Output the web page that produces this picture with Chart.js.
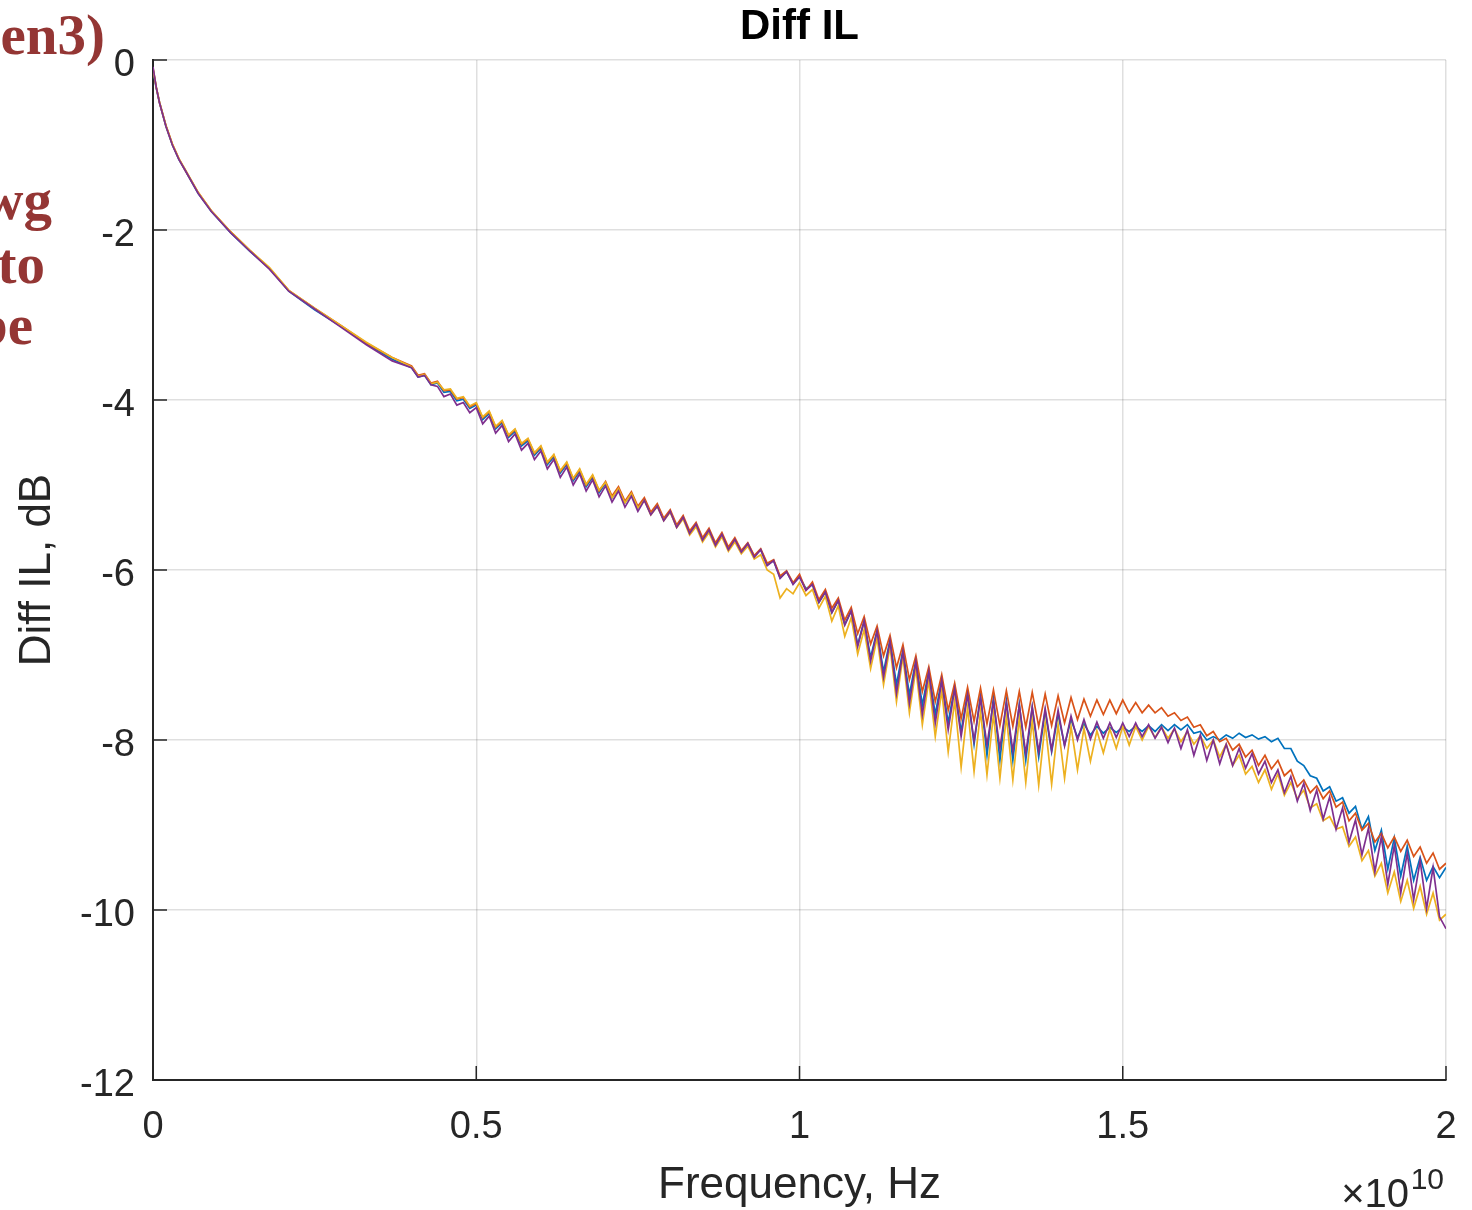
<!DOCTYPE html>
<html>
<head>
<meta charset="utf-8">
<title>Diff IL</title>
<script src="https://cdn.jsdelivr.net/npm/chart.js"></script>
<style>
  html, body { margin: 0; padding: 0; background: #fff; }
  #wrap { width: 1472px; height: 1210px; }
</style>
</head>
<body>
<div id="wrap"><canvas id="ilChart" width="1472" height="1210"></canvas></div>
<script>
// --- data (frequency in GHz, insertion loss in dB) ---
const freqGHz = [0, 0.05, 0.1, 0.2, 0.3, 0.4, 0.5, 0.7, 0.9, 1.2, 1.5, 1.8, 2.1, 2.5, 2.9, 3.3, 3.7,
  4.0, 4.1, 4.2, 4.3, 4.4, 4.5, 4.6, 4.7, 4.8, 4.9,
  5.0, 5.1, 5.2, 5.3, 5.4, 5.5, 5.6, 5.7, 5.8, 5.9,
  6.0, 6.1, 6.2, 6.3, 6.4, 6.5, 6.6, 6.7, 6.8, 6.9,
  7.0, 7.1, 7.2, 7.3, 7.4, 7.5, 7.6, 7.7, 7.8, 7.9,
  8.0, 8.1, 8.2, 8.3, 8.4, 8.5, 8.6, 8.7, 8.8, 8.9,
  9.0, 9.1, 9.2, 9.3, 9.4, 9.5, 9.6, 9.7, 9.8, 9.9,
  10.0, 10.1, 10.2, 10.3, 10.4, 10.5, 10.6, 10.7, 10.8, 10.9,
  11.0, 11.1, 11.2, 11.3, 11.4, 11.5, 11.6, 11.7, 11.8, 11.9,
  12.0, 12.1, 12.2, 12.3, 12.4, 12.5, 12.6, 12.7, 12.8, 12.9,
  13.0, 13.1, 13.2, 13.3, 13.4, 13.5, 13.6, 13.7, 13.8, 13.9,
  14.0, 14.1, 14.2, 14.3, 14.4, 14.5, 14.6, 14.7, 14.8, 14.9,
  15.0, 15.1, 15.2, 15.3, 15.4, 15.5, 15.6, 15.7, 15.8, 15.9,
  16.0, 16.1, 16.2, 16.3, 16.4, 16.5, 16.6, 16.7, 16.8, 16.9,
  17.0, 17.1, 17.2, 17.3, 17.4, 17.5, 17.6, 17.7, 17.8, 17.9,
  18.0, 18.1, 18.2, 18.3, 18.4, 18.5, 18.6, 18.7, 18.8, 18.9,
  19.0, 19.1, 19.2, 19.3, 19.4, 19.5, 19.6, 19.7, 19.8, 19.9,
  20.0];

const ilBlue = [-0.12, -0.33, -0.5, -0.78, -1.0, -1.17, -1.3, -1.57, -1.78, -2.03, -2.25, -2.45, -2.72, -2.94, -3.13, -3.34, -3.52,
  -3.62,-3.73,-3.71,-3.82,-3.80,-3.91,-3.90,-4.01,-3.99,-4.10,
  -4.06,-4.23,-4.16,-4.34,-4.27,-4.44,-4.37,-4.54,-4.48,-4.65,
  -4.57,-4.76,-4.67,-4.86,-4.76,-4.95,-4.84,-5.02,-4.91,-5.09,
  -4.98,-5.15,-5.04,-5.21,-5.10,-5.27,-5.17,-5.34,-5.24,-5.41,
  -5.31,-5.49,-5.38,-5.56,-5.46,-5.64,-5.53,-5.70,-5.58,-5.75,
  -5.64,-5.78,-5.69,-5.84,-5.76,-5.94,-5.89,-6.09,-6.02,-6.16,
  -6.08,-6.22,-6.17,-6.38,-6.26,-6.50,-6.36,-6.64,-6.48,-6.88,
  -6.60,-7.03,-6.71,-7.20,-6.82,-7.35,-6.94,-7.47,-7.06,-7.59,
  -7.18,-7.70,-7.28,-7.80,-7.37,-7.90,-7.44,-8.05,-7.47,-8.18,
  -7.50,-8.24,-7.54,-8.24,-7.58,-8.24,-7.62,-8.20,-7.66,-8.14,
  -7.70,-8.06,-7.76,-7.97,-7.81,-7.94,-7.84,-7.92,-7.85,-7.91,
  -7.85,-7.90,-7.84,-7.90,-7.83,-7.90,-7.82,-7.89,-7.82,-7.88,
  -7.82,-7.92,-7.90,-8.00,-7.96,-8.00,-7.94,-7.98,-7.92,-7.97,
  -7.94,-7.99,-7.96,-8.02,-7.98,-8.10,-8.10,-8.25,-8.30,-8.42,
  -8.45,-8.60,-8.55,-8.72,-8.68,-8.86,-8.78,-9.05,-8.90,-9.30,
  -9.06,-9.52,-9.15,-9.60,-9.25,-9.65,-9.38,-9.65,-9.49,-9.62,
  -9.50];

const ilOrange = [-0.1, -0.32, -0.5, -0.77, -0.99, -1.16, -1.3, -1.56, -1.77, -2.02, -2.24, -2.45, -2.71, -2.92, -3.12, -3.33, -3.50,
  -3.60,-3.71,-3.69,-3.80,-3.78,-3.89,-3.88,-3.99,-3.97,-4.08,
  -4.04,-4.21,-4.14,-4.32,-4.25,-4.42,-4.35,-4.52,-4.46,-4.63,
  -4.55,-4.74,-4.65,-4.84,-4.74,-4.93,-4.82,-5.00,-4.89,-5.07,
  -4.96,-5.13,-5.02,-5.19,-5.08,-5.25,-5.15,-5.32,-5.22,-5.39,
  -5.29,-5.47,-5.36,-5.54,-5.44,-5.62,-5.51,-5.68,-5.56,-5.73,
  -5.62,-5.77,-5.68,-5.83,-5.75,-5.92,-5.88,-6.07,-6.01,-6.15,
  -6.05,-6.24,-6.14,-6.35,-6.23,-6.45,-6.33,-6.59,-6.44,-6.75,
  -6.55,-6.87,-6.66,-7.01,-6.77,-7.15,-6.88,-7.29,-7.01,-7.43,
  -7.14,-7.55,-7.23,-7.65,-7.33,-7.75,-7.38,-7.78,-7.39,-7.81,
  -7.41,-7.83,-7.42,-7.84,-7.43,-7.85,-7.44,-7.84,-7.46,-7.83,
  -7.48,-7.80,-7.50,-7.76,-7.52,-7.72,-7.53,-7.70,-7.53,-7.69,
  -7.53,-7.68,-7.56,-7.68,-7.59,-7.68,-7.62,-7.72,-7.68,-7.77,
  -7.73,-7.85,-7.82,-7.95,-7.90,-8.02,-7.98,-8.12,-8.05,-8.20,
  -8.12,-8.30,-8.18,-8.34,-8.24,-8.42,-8.35,-8.55,-8.47,-8.62,
  -8.54,-8.69,-8.60,-8.79,-8.73,-8.95,-8.86,-9.06,-8.98,-9.20,
  -9.10,-9.27,-9.14,-9.31,-9.18,-9.37,-9.26,-9.45,-9.33,-9.52,
  -9.45];

const ilYellow = [-0.1, -0.32, -0.49, -0.77, -0.99, -1.16, -1.29, -1.56, -1.77, -2.02, -2.24, -2.44, -2.71, -2.92, -3.12, -3.32, -3.50,
  -3.61,-3.72,-3.70,-3.81,-3.79,-3.88,-3.87,-3.98,-3.96,-4.07,
  -4.03,-4.20,-4.13,-4.31,-4.24,-4.41,-4.34,-4.51,-4.45,-4.62,
  -4.54,-4.73,-4.64,-4.83,-4.73,-4.92,-4.81,-4.99,-4.88,-5.06,
  -4.97,-5.15,-5.04,-5.21,-5.10,-5.27,-5.18,-5.35,-5.25,-5.42,
  -5.32,-5.50,-5.40,-5.59,-5.49,-5.67,-5.56,-5.73,-5.61,-5.78,
  -5.67,-5.81,-5.72,-5.87,-5.82,-6.00,-6.05,-6.33,-6.22,-6.28,
  -6.15,-6.30,-6.23,-6.45,-6.31,-6.60,-6.42,-6.78,-6.56,-6.99,
  -6.70,-7.16,-6.80,-7.35,-6.90,-7.55,-7.02,-7.68,-7.16,-7.82,
  -7.30,-7.96,-7.42,-8.14,-7.54,-8.32,-7.62,-8.37,-7.66,-8.41,
  -7.70,-8.45,-7.72,-8.47,-7.74,-8.50,-7.77,-8.53,-7.80,-8.52,
  -7.82,-8.45,-7.84,-8.35,-7.86,-8.25,-7.89,-8.15,-7.87,-8.10,
  -7.84,-8.06,-7.84,-8.00,-7.84,-7.97,-7.85,-7.98,-7.87,-8.02,
  -7.90,-8.05,-7.95,-8.10,-8.00,-8.20,-8.05,-8.30,-8.18,-8.40,
  -8.31,-8.50,-8.35,-8.58,-8.40,-8.65,-8.50,-8.69,-8.59,-8.80,
  -8.75,-8.95,-8.90,-9.05,-9.02,-9.25,-9.14,-9.42,-9.30,-9.60,
  -9.45,-9.80,-9.55,-9.90,-9.65,-9.98,-9.72,-10.05,-9.80,-10.12,
  -10.05];

const ilPurple = [-0.08, -0.32, -0.5, -0.78, -1.0, -1.17, -1.3, -1.57, -1.78, -2.03, -2.25, -2.46, -2.72, -2.93, -3.14, -3.35, -3.54,
  -3.62,-3.73,-3.71,-3.82,-3.84,-3.96,-3.93,-4.06,-4.03,-4.15,
  -4.09,-4.28,-4.19,-4.39,-4.30,-4.49,-4.40,-4.59,-4.51,-4.70,
  -4.60,-4.81,-4.70,-4.91,-4.79,-5.00,-4.87,-5.07,-4.94,-5.14,
  -5.01,-5.20,-5.07,-5.26,-5.13,-5.31,-5.18,-5.35,-5.25,-5.42,
  -5.31,-5.50,-5.38,-5.57,-5.46,-5.65,-5.53,-5.71,-5.58,-5.76,
  -5.64,-5.79,-5.69,-5.85,-5.76,-5.95,-5.89,-6.10,-6.02,-6.17,
  -6.08,-6.24,-6.17,-6.38,-6.26,-6.50,-6.36,-6.65,-6.48,-6.90,
  -6.60,-7.07,-6.72,-7.26,-6.84,-7.45,-6.96,-7.57,-7.08,-7.70,
  -7.20,-7.80,-7.30,-7.88,-7.40,-7.96,-7.47,-8.01,-7.51,-8.06,
  -7.55,-8.10,-7.57,-8.13,-7.59,-8.16,-7.61,-8.14,-7.63,-8.12,
  -7.65,-8.07,-7.72,-8.00,-7.76,-7.99,-7.79,-7.98,-7.80,-7.97,
  -7.80,-7.96,-7.80,-7.96,-7.82,-7.98,-7.85,-8.03,-7.86,-8.10,
  -7.88,-8.18,-7.94,-8.24,-8.00,-8.28,-8.05,-8.30,-8.10,-8.33,
  -8.16,-8.40,-8.25,-8.50,-8.35,-8.62,-8.43,-8.72,-8.51,-8.83,
  -8.59,-8.93,-8.67,-9.05,-8.80,-9.20,-8.94,-9.35,-9.04,-9.55,
  -9.14,-9.70,-9.24,-9.80,-9.33,-9.88,-9.42,-9.98,-9.50,-10.08,
  -10.22];

const xTickLabels = ['0', '0.5', '1', '1.5', '2'];   // axis in units of 1e10 Hz
const yTicks = [0, -2, -4, -6, -8, -10, -12];
const sideWords = ['en3)', 'wg', 'to', 'be'];        // cropped text from the slide on the left

const AXIS_FONT = "'Liberation Sans', Arial, Helvetica, sans-serif";
const INK = '#262626';

function pts(vals) {
  return freqGHz.map((f, i) => ({ x: f, y: vals[i] }));
}

// inward MATLAB-style tick marks + leftover slide text + exponent label
const decoPlugin = {
  id: 'deco',
  afterDraw(chart) {
    const { ctx, chartArea: a, scales } = chart;
    ctx.save();
    ctx.strokeStyle = INK;
    ctx.lineWidth = 1.5;
    ctx.beginPath();
    scales.y.ticks.forEach(t => {
      const y = scales.y.getPixelForValue(t.value);
      ctx.moveTo(a.left, y); ctx.lineTo(a.left + 14, y);
    });
    scales.x.ticks.forEach(t => {
      const x = scales.x.getPixelForValue(t.value);
      ctx.moveTo(x, a.bottom); ctx.lineTo(x, a.bottom - 14);
    });
    ctx.stroke();

    // x 10^10
    ctx.fillStyle = INK;
    ctx.textBaseline = 'alphabetic';
    ctx.textAlign = 'right';
    ctx.font = '30px ' + AXIS_FONT;
    ctx.fillText('10', a.right - 2, 1189);
    ctx.font = '40px ' + AXIS_FONT;
    ctx.fillText('\u00d710', a.right - 37, 1207);

    // red serif words cut off at the left edge
    ctx.fillStyle = '#943634';
    ctx.font = 'bold 57px "Liberation Serif", "Times New Roman", serif';
    ctx.fillText(sideWords[0], 105, 54);
    ctx.fillText(sideWords[1], 52, 219);
    ctx.fillText(sideWords[2], 45, 283);
    ctx.fillText(sideWords[3], 33, 344);
    ctx.restore();
  }
};

const lineStyle = { borderWidth: 1.7, pointRadius: 0, tension: 0, fill: false };

new Chart(document.getElementById('ilChart'), {
  type: 'line',
  data: {
    datasets: [
      { label: 'ch1', data: pts(ilBlue), borderColor: '#0072BD', order: 4, ...lineStyle },
      { label: 'ch2', data: pts(ilOrange), borderColor: '#D95319', order: 3, ...lineStyle },
      { label: 'ch3', data: pts(ilYellow), borderColor: '#EDB120', order: 2, ...lineStyle },
      { label: 'ch4', data: pts(ilPurple), borderColor: '#7E2F8E', order: 1, ...lineStyle }
    ]
  },
  options: {
    responsive: false,
    animation: false,
    devicePixelRatio: 1,
    layout: { padding: { left: 0, right: 26, top: 0, bottom: 0 } },
    plugins: {
      legend: { display: false },
      tooltip: { enabled: false },
      title: {
        display: true,
        text: 'Diff IL',
        fullSize: false,
        color: '#000',
        font: { family: AXIS_FONT, size: 42, weight: 'bold', lineHeight: 1.2 },
        padding: { top: 2, bottom: 7.6 }
      }
    },
    scales: {
      x: {
        type: 'linear',
        min: 0,
        max: 20,
        afterFit(scale) {
          scale.height = 130;
          scale.paddingLeft = 0;
          scale.paddingRight = 0;
        },
        afterBuildTicks(scale) {
          scale.ticks = xTickLabels.map(s => ({ value: parseFloat(s) * 10 }));
        },
        ticks: {
          color: INK,
          padding: 25,
          maxRotation: 0,
          font: { family: AXIS_FONT, size: 38 },
          callback: (v) => xTickLabels[Math.round(v / 5)]
        },
        grid: { color: 'rgba(38,38,38,0.15)', lineWidth: 1.5, drawTicks: false },
        border: { color: INK, width: 2 },
        title: {
          display: true,
          text: 'Frequency, Hz',
          color: INK,
          font: { family: AXIS_FONT, size: 44, lineHeight: 1.1 },
          padding: { top: 0, bottom: 0 }
        }
      },
      y: {
        min: -12,
        max: 0,
        afterFit(scale) {
          scale.width = 153;
          scale.paddingTop = 0;
          scale.paddingBottom = 0;
        },
        afterBuildTicks(scale) {
          scale.ticks = yTicks.map(v => ({ value: v }));
        },
        ticks: {
          color: INK,
          padding: 18,
          labelOffset: 6,
          font: { family: AXIS_FONT, size: 38 },
          callback: (v) => String(v)
        },
        grid: { color: 'rgba(38,38,38,0.15)', lineWidth: 1.5, drawTicks: false },
        border: { color: INK, width: 2 },
        title: {
          display: true,
          text: 'Diff IL, dB',
          color: INK,
          font: { family: AXIS_FONT, size: 44, lineHeight: 1.1 },
          padding: { top: 14, bottom: 0 }
        }
      }
    }
  },
  plugins: [decoPlugin]
});
</script>
</body>
</html>
